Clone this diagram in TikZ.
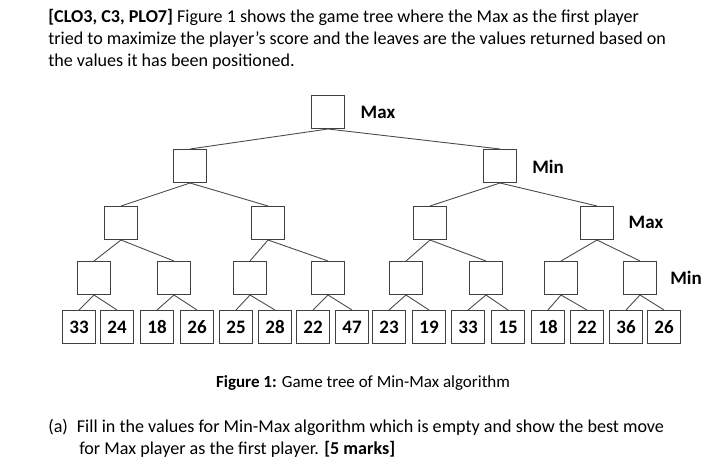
\documentclass[tikz,border=0pt]{standalone}
\usepackage{fontspec}
\setmainfont{Carlito}
\usetikzlibrary{positioning}

\begin{document}
\begin{tikzpicture}[x=1pt,y=-1pt,-,semithick,
  box/.style={draw=black!75,line width=1pt,minimum size=33pt,inner sep=0pt,font=\fontsize{19}{19}\selectfont\bfseries},
  lvl/.style={font=\fontsize{19}{19}\selectfont\bfseries},
  link/.style={draw=black!70,line width=0.9pt}]
\useasboundingbox (0,0) rectangle (725,473);

\node[anchor=north west,align=left,font=\fontsize{18.1}{22}\selectfont,inner sep=0pt] (Q) at (48,9)
  {\textbf{[CLO3, C3, PLO7]} Figure 1 shows the game tree where the Max as the first player\\
   tried to maximize the player's score and the leaves are the values returned based on\\
   the values it has been positioned.};

\node[box] (R) at (328,112) {};

\node[box] (A1) at (190,166) {};
\node[box] (A2) at (500,166) {};

\node[box] (B1) at (121,223) {};
\node[box] (B2) at (268,223) {};
\node[box] (B3) at (430,223) {};
\node[box] (B4) at (597,223) {};

\node[box] (C1) at (94,278) {};
\node[box] (C2) at (174,278) {};
\node[box] (C3) at (250,278) {};
\node[box] (C4) at (328,278) {};
\node[box] (C5) at (406,278) {};
\node[box] (C6) at (486,278) {};
\node[box] (C7) at (561,278) {};
\node[box] (C8) at (640,278) {};

\node[box] (L1) at (79,327) {33};
\node[box] (L2) at (117,327) {24};
\node[box] (L3) at (157,327) {18};
\node[box] (L4) at (197,327) {26};
\node[box] (L5) at (236,327) {25};
\node[box] (L6) at (275,327) {28};
\node[box] (L7) at (313,327) {22};
\node[box] (L8) at (352,327) {47};
\node[box] (L9) at (389,327) {23};
\node[box] (L10) at (429,327) {19};
\node[box] (L11) at (468,327) {33};
\node[box] (L12) at (508,327) {15};
\node[box] (L13) at (548,327) {18};
\node[box] (L14) at (587,327) {22};
\node[box] (L15) at (626,327) {36};
\node[box] (L16) at (664,327) {26};

\node[lvl] (MaxR) at (378,112) {Max};
\node[lvl] (MinA) at (548,167) {Min};
\node[lvl] (MaxB) at (646,222) {Max};
\node[lvl] (MinC) at (686,278) {Min};

\path[link] (R.south) edge (A1.north)
      (R.south) edge (A2.north);

\path[link] (A1.south) edge (B1.north)
      (A1.south) edge (B2.north)
      (A2.south) edge (B3.north)
      (A2.south) edge (B4.north);

\path[link] (B1.south) edge (C1.north)
      (B1.south) edge (C2.north)
      (B2.south) edge (C3.north)
      (B2.south) edge (C4.north)
      (B3.south) edge (C5.north)
      (B3.south) edge (C6.north)
      (B4.south) edge (C7.north)
      (B4.south) edge (C8.north);

\foreach \c/\l/\r in {1/1/2,2/3/4,3/5/6,4/7/8,5/9/10,6/11/12,7/13/14,8/15/16}{
  \path[link] (C\c.south) edge (L\l.north) (C\c.south) edge (L\r.north);
}

\node[font=\fontsize{17}{18}\selectfont] (Cap) at (363,383) {\textbf{Figure 1:} Game tree of Min-Max algorithm};

\node[anchor=north west,align=left,font=\fontsize{18.1}{22}\selectfont,inner sep=0pt] (Part) at (48,419)
  {(a)\hspace{9pt}Fill in the values for Min-Max algorithm which is empty and show the best move\\
   \hspace{31pt}for Max player as the first player. \textbf{[5 marks]}};
\end{tikzpicture}
\end{document}
